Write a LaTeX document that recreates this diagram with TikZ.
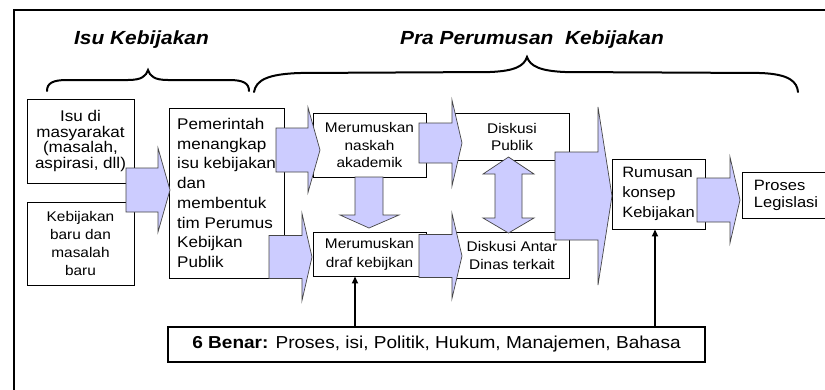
\documentclass[tikz,border=0pt]{standalone}
\usepackage{fontspec}
\setmainfont{Liberation Sans}[FakeStretch=1.1]
\usetikzlibrary{arrows.meta}
\definecolor{lav}{RGB}{204,204,255}
\definecolor{edgegray}{RGB}{70,70,70}
\newcommand\bxfont[2]{\fontsize{#1}{#2}\selectfont}
\newcommand\blockarrow[6]{%
  \draw[barrow] ({#1},{#4-#5}) -- ({#2},{#4-#5}) -- ({#2},{#4-#6}) -- ({#3},{#4})
    -- ({#2},{#4+#6}) -- ({#2},{#4+#5}) -- ({#1},{#4+#5}) -- cycle;}
\tikzset{
  box/.style={draw=black, line width=0.9pt, fill=white, inner sep=0pt, align=center},
  lbox/.style={box, align=left},
  barrow/.style={draw=edgegray, line width=0.7pt, fill=lav, line join=miter},
  conn/.style={line width=2pt, -{Triangle[length=7pt,width=6pt]}},
  brace/.style={line width=2pt, line cap=round},
  title/.style={font=\bxfont{19}{22}\bfseries\itshape}
}
\begin{document}
\begin{tikzpicture}[x=1pt,y=-1pt]
\useasboundingbox (0,0) rectangle (825,389);
\fill[white] (0,0) rectangle (825,389);
\clip (0,0) rectangle (825,389);
% outer frame
\draw[line width=1.3pt] (14,420) -- (14,10) -- (850,10);

% boxes
\node[box, minimum width=107pt, minimum height=84pt, font=\bxfont{15.5}{15.6}] (isu) at (80.5,141) {Isu di\\masyarakat\\(masalah,\\aspirasi, dll)};
\node[box, minimum width=107pt, minimum height=83pt, font=\bxfont{14}{18.3}] (baru) at (80.5,243.5) {Kebijakan\\baru dan\\masalah\\baru};
\node[lbox, minimum width=115pt, minimum height=170pt, font=\bxfont{15.5}{19.7}] (pem) at (226.5,193) {Pemerintah\\menangkap\\isu kebijakan\\dan\\membentuk\\tim Perumus\\Kebijkan\\Publik};
\node[box, minimum width=113pt, minimum height=64pt, font=\bxfont{14}{17.5}] (naskah) at (369.5,145) {Merumuskan\\naskah\\akademik};
\node[box, minimum width=113pt, minimum height=44pt, font=\bxfont{14}{19}] (draft) at (369.5,254) {Merumuskan\\draf kebijkan};
\node[box, minimum width=114pt, minimum height=47pt, font=\bxfont{14}{17}] (dpub) at (512,136.5) {Diskusi\\Publik};
\node[box, minimum width=114pt, minimum height=46pt, font=\bxfont{14}{18}] (dantar) at (512,255) {Diskusi Antar\\Dinas terkait};
\node[lbox, minimum width=93pt, minimum height=70pt, font=\bxfont{15}{20}] (rumusan) at (658.5,194) {Rumusan\\konsep\\Kebijakan};
\node[lbox, minimum width=88pt, minimum height=46pt, font=\bxfont{15}{17}] (proses) at (786,195) {Proses\\Legislasi};
\node[box, line width=2.5pt, minimum width=537pt, minimum height=35pt, font=\bxfont{17.3}{20}] (benar) at (436.5,344.5) {\textbf{6 Benar:} Proses, isi, Politik, Hukum, Manajemen, Bahasa};

% block arrows
\blockarrow{126}{158}{170}{190}{22}{42}
\blockarrow{276}{308}{320}{150}{22}{42.5}
\blockarrow{419}{452}{462}{143}{20}{43}
\blockarrow{269}{302}{312}{257}{21.5}{43.5}
\blockarrow{419}{452}{462}{256}{21.5}{42.5}
\blockarrow{555}{598}{612}{196}{44}{89}
\blockarrow{697}{730}{740}{200}{22}{43}
% down arrow naskah -> draft
\draw[barrow] (355,177) -- (383,177) -- (383,215) -- (399,215) -- (369,228) -- (340,215) -- (355,215) -- cycle;
% double arrow between Diskusi boxes
\draw[barrow] (508.5,157) -- (534,174) -- (522,174) -- (522,218) -- (534,218) -- (508.5,233)
  -- (483,218) -- (495,218) -- (495,174) -- (483,174) -- cycle;

% thin arrows from 6 Benar
\coordinate (xa) at (355,0);
\coordinate (xb) at (655,0);
\draw[conn] (benar.north -| xa) -- (draft.south -| xa);
\draw[conn] (benar.north -| xb) -- (rumusan.south -| xb);

% braces
\draw[brace] (47,91) .. controls (47,83) and (53,80) .. (67,80) -- (128,80)
  .. controls (142,80) and (146,76) .. (148,70)
  .. controls (150,76) and (154,80) .. (168,80) -- (229,80)
  .. controls (243,80) and (249,83) .. (249,91);
\draw[brace] (254,92) .. controls (256,80) and (268,74) .. (300,73) -- (490,72)
  .. controls (515,71) and (524,66) .. (527,57)
  .. controls (530,66) and (540,71) .. (565,72) -- (760,73)
  .. controls (790,74) and (797,82) .. (798,92);

% titles
\node[title] (t1) at (141.5,40) {Isu Kebijakan};
\node[title] (t2) at (532,40) {Pra Perumusan\ \ Kebijakan};
\end{tikzpicture}
\end{document}
